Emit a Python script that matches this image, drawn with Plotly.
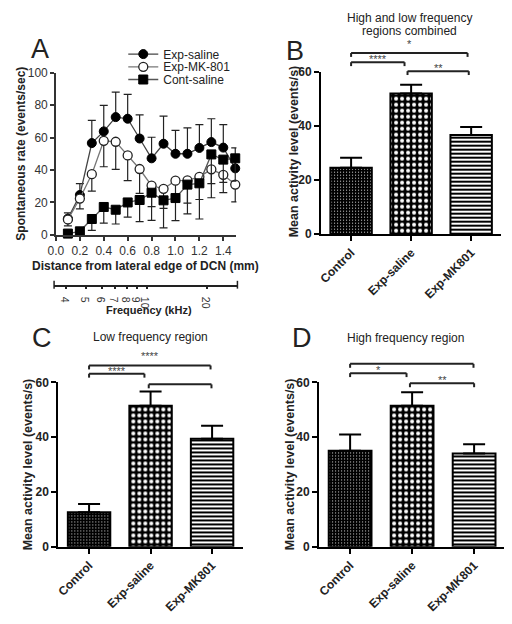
import math
import plotly.graph_objects as go

# ---------------- data ----------------
distance_mm = [0.1, 0.2, 0.3, 0.4, 0.5, 0.6, 0.7, 0.8, 0.9, 1.0, 1.1, 1.2, 1.3, 1.4, 1.5]
exp_saline = [10, 24.6, 56.6, 63.8, 72.6, 71.6, 59.4, 47.2, 56.2, 50, 50, 53.6, 57.2, 53.8, 41]
exp_saline_err = [3.6, 7, 14, 16, 15.4, 15, 14.6, 13, 17, 14.4, 16, 14.4, 14.4, 14.2, 12.6]
exp_mk801 = [9.5, 22.4, 37.4, 58, 57.4, 49, 40.6, 30.4, 28.4, 33.4, 33.6, 35.8, 40.4, 37, 31]
exp_mk801_err = [4, 6.4, 10.4, 16, 17, 15.6, 15, 13, 12, 12, 14, 14, 17.5, 11, 10.7]
cont_saline = [0.8, 2.2, 9.8, 17.2, 15.5, 20, 21.5, 26, 21.3, 22.7, 31, 31.8, 49.6, 46.4, 47.2]
cont_saline_err = [0, 0, 7, 10, 8.8, 9, 13.3, 17, 17, 13.9, 18, 22, 18, 14, 14]

a_xticks = [0.0, 0.2, 0.4, 0.6, 0.8, 1.0, 1.2, 1.4]
a_yticks = [0, 20, 40, 60, 80, 100]
freq_ticks_khz = [4, 5, 6, 7, 8, 9, 10, 20]
freq_range_khz = [3.48, 28.25]

groups = ["Control", "Exp-saline", "Exp-MK801"]
b_means = [24.5, 51.9, 36.6]
b_err = [3.7, 3.3, 2.9]
c_means = [12.6, 51.5, 39.4]
c_err = [3.0, 5.2, 4.8]
d_means = [35.0, 51.5, 34.0]
d_err = [6.0, 4.9, 3.4]
bar_yticks = [0, 20, 40, 60]

# significance brackets: (start group, end group, level, label, text offset px)
b_sig = [(0, 1.94, 66.9, "*", 9), (0, 0.89, 63.5, "****", 3), (0.94, 1.96, 60.2, "**", 3)]
c_sig = [(0, 1.975, 66.2, "****", 9), (0, 0.9, 63.2, "****", 3), (0.97, 1.99, 59.3, "", 3)]
d_sig = [(0, 1.99, 66.8, "", 9), (0, 0.91, 63.4, "*", 3), (0.965, 2.0, 59.7, "**", 3)]

# ---------------- layout helpers ----------------
# the page body has an 8px margin, so the figure is sized to the visible area
OFF = 8
W, H = 512 - OFF, 624 - OFF
FONT = "Arial, Liberation Sans, sans-serif"


def px_x(p):
    return (p - OFF) / W


def px_y(p):
    return 1 - (p - OFF) / H


fig = go.Figure()

# ---------------- panel A ----------------
common_line = dict(width=1.3)
fig.add_trace(go.Scatter(
    x=distance_mm, y=exp_saline, name="Exp-saline", mode="lines+markers",
    line=dict(color="#444", **common_line),
    marker=dict(symbol="circle", size=9, color="black", line=dict(color="black", width=1)),
    error_y=dict(type="data", array=exp_saline_err, arrayminus=[0] * len(exp_saline_err),
                 symmetric=False, color="#222", thickness=1.2, width=4),
    xaxis="x", yaxis="y", legend="legend", cliponaxis=False))
fig.add_trace(go.Scatter(
    x=distance_mm, y=exp_mk801, name="Exp-MK-801", mode="lines+markers",
    line=dict(color="#777", **common_line),
    marker=dict(symbol="circle", size=9, color="white", line=dict(color="#222", width=1.3)),
    error_y=dict(type="data", array=[0] * len(exp_mk801_err), arrayminus=exp_mk801_err,
                 symmetric=False, color="#222", thickness=1.2, width=4),
    xaxis="x", yaxis="y", legend="legend2", cliponaxis=False))
fig.add_trace(go.Scatter(
    x=distance_mm, y=cont_saline, name="Cont-saline", mode="lines+markers",
    line=dict(color="#555", **common_line),
    marker=dict(symbol="square", size=9, color="black", line=dict(color="black", width=1)),
    error_y=dict(type="data", array=[0] * len(cont_saline_err), arrayminus=cont_saline_err,
                 symmetric=False, color="#222", thickness=1.2, width=4),
    xaxis="x", yaxis="y", legend="legend3", cliponaxis=False))

# frequency axis host trace (no marks)
fig.add_trace(go.Scatter(x=[], y=[], xaxis="x2", yaxis="y2", showlegend=False))

# ---------------- bar panels ----------------
patterns = [
    dict(shape=".", bgcolor="black", fgcolor="white", size=3, solidity=0.12),
    dict(shape=".", bgcolor="black", fgcolor="white", size=6, solidity=0.35),
    dict(shape="-", bgcolor="white", fgcolor="black", size=4, solidity=0.5),
]

for means, errs, xa, ya in [(b_means, b_err, "x3", "y3"), (c_means, c_err, "x4", "y4"),
                            (d_means, d_err, "x5", "y5")]:
    fig.add_trace(go.Bar(
        x=groups, y=means, width=0.69, xaxis=xa, yaxis=ya, showlegend=False,
        marker=dict(color="black", line=dict(color="black", width=2),
                    pattern=dict(shape=[p["shape"] for p in patterns],
                                 bgcolor=[p["bgcolor"] for p in patterns],
                                 fgcolor=[p["fgcolor"] for p in patterns],
                                 size=[p["size"] for p in patterns],
                                 solidity=[p["solidity"] for p in patterns],
                                 fillmode="replace")),
        error_y=dict(type="data", array=errs, arrayminus=[0] * len(errs), symmetric=False,
                     color="black", thickness=2, width=11)))

# ---------------- axes ----------------
axA = dict(showline=True, linecolor="#333", linewidth=1.5, ticks="outside", ticklen=4,
           tickwidth=1.5, tickcolor="#333", showgrid=False, zeroline=False,
           tickfont=dict(family=FONT, size=12, color="#333"))
bar_x = dict(showline=True, linecolor="black", linewidth=2, ticks="outside", ticklen=5,
             tickwidth=2, tickcolor="black", showgrid=False, zeroline=False,
             range=[-0.5, 2.5], tickangle=-45,
             tickfont=dict(family=FONT, size=12, color="#222", weight="bold"))
bar_y = dict(showline=True, linecolor="black", linewidth=2, ticks="outside", ticklen=5,
             tickwidth=2, tickcolor="black", showgrid=False, zeroline=False,
             range=[0, 60], tickvals=bar_yticks,
             tickfont=dict(family=FONT, size=12, color="#222", weight="bold"))

yC = [px_y(552), px_y(384)]

fig.update_layout(
    width=W, height=H, margin=dict(l=0, r=0, t=0, b=0),
    paper_bgcolor="white", plot_bgcolor="white",
    font=dict(family=FONT, color="#222"),
    xaxis=dict(domain=[px_x(48.6), px_x(232)], range=[0, 1.51], tickvals=a_xticks,
               tickformat=".1f", anchor="y", **axA),
    yaxis=dict(domain=[px_y(233), px_y(67)], range=[0, 100], tickvals=a_yticks,
               anchor="x", **axA),
    xaxis2=dict(domain=[px_x(46.7), px_x(233)], type="log",
                range=[math.log10(freq_range_khz[0]), math.log10(freq_range_khz[1])],
                tickvals=freq_ticks_khz, ticktext=[str(t) for t in freq_ticks_khz],
                anchor="y2", showline=True, linecolor="#222", linewidth=1.5,
                ticks="outside", ticklen=3, tickwidth=1.5, tickcolor="#222",
                showgrid=False, zeroline=False,
                tickfont=dict(family=FONT, size=10.5, color="#333")),
    yaxis2=dict(domain=[px_y(284), px_y(270)], visible=False, anchor="x2", range=[0, 1]),
    xaxis3=dict(domain=[px_x(318), px_x(501)], anchor="y3", **bar_x),
    yaxis3=dict(domain=[px_y(232), px_y(66)], anchor="x3", **bar_y),
    xaxis4=dict(domain=[px_x(51), px_x(238.5)], anchor="y4", **bar_x),
    yaxis4=dict(domain=yC, anchor="x4", **bar_y),
    xaxis5=dict(domain=[px_x(316), px_x(505)], anchor="y5", **bar_x),
    yaxis5=dict(domain=yC, anchor="x5", **bar_y),
)

# legends (one per series, so the rows can be spaced as in the original)
for key, ypix in [("legend", 48), ("legend2", 61), ("legend3", 74)]:
    fig.update_layout({key: dict(x=px_x(117), y=px_y(ypix), xanchor="left", yanchor="middle",
                                 bgcolor="rgba(0,0,0,0)", borderwidth=0,
                                 font=dict(family=FONT, size=12, color="#222"),
                                 itemwidth=30)})

# frequency axis end caps
for xd in [0, 1]:
    fig.add_shape(type="line", xref="x2 domain", yref="paper", x0=xd, x1=xd,
                  y0=px_y(288), y1=px_y(280), line=dict(color="#222", width=1.5))

# significance brackets
drop = 0.024
for sig, xa, ya in [(b_sig, "x3", "y3"), (c_sig, "x4", "y4"), (d_sig, "x5", "y5")]:
    for g0, g1, lvl, label, off in sig:
        x0 = (g0 + 0.5) / 3
        x1 = (g1 + 0.5) / 3
        yl = lvl / 60
        ln = dict(color="#222", width=2)
        fig.add_shape(type="line", xref=f"{xa} domain", yref=f"{ya} domain",
                      x0=x0, x1=x1, y0=yl, y1=yl, line=ln)
        for xx in (x0, x1):
            fig.add_shape(type="line", xref=f"{xa} domain", yref=f"{ya} domain",
                          x0=xx, x1=xx, y0=yl, y1=yl - drop, line=ln)
        if label:
            fig.add_annotation(xref=f"{xa} domain", yref=f"{ya} domain",
                               x=(x0 + x1) / 2, y=yl, text=label, showarrow=False,
                               xanchor="center", yanchor="middle", yshift=off,
                               font=dict(family=FONT, size=11, color="#444"))


# text: panel letters, titles, axis titles
def txt(x, y, s, size, bold=False, angle=0, color="#222"):
    fig.add_annotation(xref="paper", yref="paper", x=px_x(x), y=px_y(y), text=s,
                       showarrow=False, xanchor="center", yanchor="middle", textangle=angle,
                       font=dict(family=FONT, size=size, color=color,
                                 weight="bold" if bold else "normal"))


txt(32, 43, "A", 27)
txt(292, 45, "B", 27)
txt(34, 338, "C", 27)
txt(298.5, 338.5, "D", 27)

txt(408, 11, "High and low frequency", 12)
txt(408, 24, "regions combined", 12)
txt(145, 337, "Low frequency region", 12)
txt(403.5, 339, "High frequency region", 12)

txt(13, 150, "Spontaneous rate (events/sec)", 12, bold=True, angle=-90)
txt(140, 265, "Distance from lateral edge of DCN (mm)", 12, bold=True)
txt(143, 310, "Frequency (kHz)", 11, bold=True)

txt(290, 148, "Mean activity level (events/s)", 12.5, bold=True, angle=-90)
txt(20, 468, "Mean activity level (events/s)", 12.5, bold=True, angle=-90)
txt(286, 468, "Mean activity level (events/s)", 12.5, bold=True, angle=-90)

fig.write_html("out.html")
